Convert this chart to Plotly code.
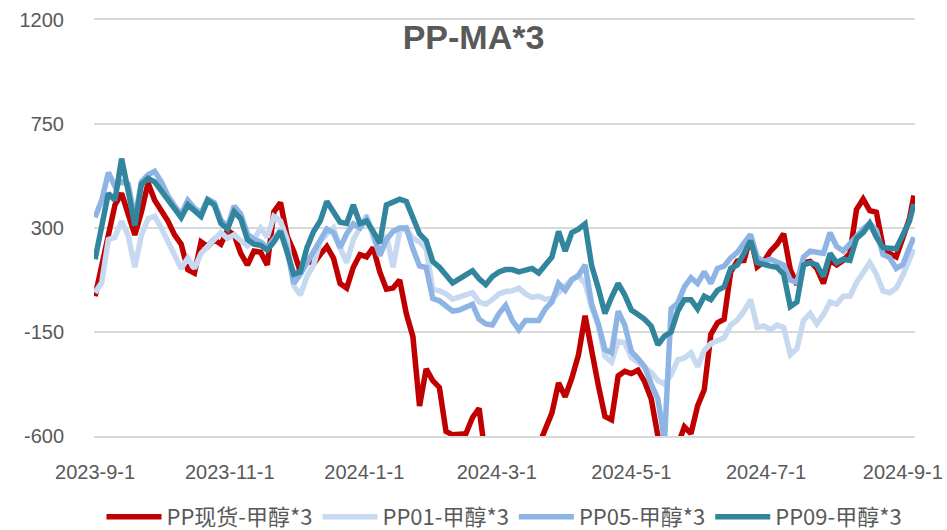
import pandas as pd
import plotly.graph_objects as go

# sample dates: every 3 days from 2023-09-01, plus the last observation
dates = list(pd.date_range("2023-09-01", periods=124, freq="3D").strftime("%Y-%m-%d")) + ["2024-09-06"]

spot = [5, 130, 270, 400, 450, 350, 270, 370, 495, 420,
        380, 330, 270, 230, 120, 105, 240, 220, 250, 230,
        290, 270, 190, 140, 200, 195, 140, 370, 410, 265,
        200, 110, 160, 145, 185, 220, 170, 60, 40, 130,
        185, 175, 215, 110, 35, 40, 75, -70, -170, -470,
        -310, -360, -390, -580, -595, -592, -590, -520, -480, -700,
        -700, -700, -700, -700, -700, -700, -700, -640, -570, -500,
        -370, -430, -350, -250, -80, -240, -380, -515, -530, -340,
        -320, -330, -315, -365, -440, -600, -700, -700, -640, -560,
        -590, -470, -400, -160, -110, -95, 110, 157, 160, 262,
        132, 155, 200, 230, 275, 120, 55, 150, 155, 125,
        60, 160, 140, 160, 190, 380, 425, 375, 368, 220,
        190, 175, 260, 340, 440]

pp01 = [20, 64, 250, 260, 330, 267, 130, 270, 340, 350,
        300, 240, 185, 125, 170, 125, 190, 220, 250, 280,
        255, 270, 245, 223, 250, 300, 260, 350, 330, 250,
        50, 10, 90, 140, 240, 275, 300, 215, 150, 250,
        300, 355, 260, 190, 270, 130, 290, 300, 255, 240,
        210, 35, 28, 15, -8, 0, 10, 20, -20, -30,
        -10, 15, 25, 28, 40, 15, 0, 5, -8, -5,
        20, 50, 78, 93, 60, -45, -120, -255, -280, -190,
        -197, -260, -280, -305, -325, -360, -375, -335, -270, -262,
        -240, -300, -230, -200, -190, -175, -120, -98, -60, -10,
        -130, -124, -140, -120, -130, -248, -222, -100, -70, -115,
        -75, -20, -30, 5, 5, 64, 107, 150, 100, 28,
        20, 40, 95, 165, 209]

pp05 = [346, 420, 540, 480, 500, 490, 340, 500, 530, 545,
        500, 440, 395, 360, 420, 385, 365, 425, 410, 335,
        305, 395, 360, 275, 250, 240, 215, 250, 290, 210,
        60, 100, 150, 205, 250, 296, 280, 215, 275, 318,
        300, 339, 280, 180, 250, 285, 300, 300, 210, 136,
        129, -5, -15, -38, -60, -55, -45, -30, -95, -115,
        -120, -70, -35, -100, -140, -100, -100, -100, -50, -20,
        60, 30, 75, 95, 140, -30, -115, -226, -240, -60,
        -120, -235, -265, -300, -375, -440, -620, -50, -25, 45,
        85, 60, 110, 60, 125, 135, 170, 195, 235, 272,
        175, 155, 165, 150, 140, 75, 65, 175, 200, 195,
        190, 280, 220, 200, 235, 262, 296, 320, 290, 185,
        172, 125, 142, 215, 260]

pp09 = [165, 310, 450, 420, 600, 460, 310, 490, 515, 500,
        460, 420, 375, 345, 400, 372, 350, 420, 400, 320,
        295, 370, 340, 250, 230, 225, 205, 240, 285, 195,
        100, 110, 215, 285, 330, 415, 365, 325, 320, 400,
        320, 330, 285, 235, 400, 410, 425, 415, 350, 275,
        245, 155, 130, 95, 62, 80, 100, 115, 80, 55,
        90, 110, 120, 120, 110, 120, 125, 105, 140, 175,
        285, 200, 280, 295, 318, 136, 40, -70, 0, 60,
        10, -55, -74, -95, -125, -205, -168, -150, -60, -10,
        -10, -50, 5, -10, 30, 45, 125, 140, 190, 245,
        150, 140, 135, 130, 100, -40, -20, 140, 150, 140,
        90, 190, 150, 165, 160, 255, 280, 320, 260, 215,
        210, 210, 270, 330, 404]

names = ["PP现货-甲醇*3", "PP01-甲醇*3", "PP05-甲醇*3", "PP09-甲醇*3"]
colors = ["#C00000", "#C6D9F1", "#8EB4E3", "#31859C"]
series = [spot, pp01, pp05, pp09]

tick_vals = ["2023-09-01", "2023-11-01", "2024-01-01", "2024-03-01",
             "2024-05-01", "2024-07-01", "2024-09-01"]
tick_text = ["2023-9-1", "2023-11-1", "2024-1-1", "2024-3-1",
             "2024-5-1", "2024-7-1", "2024-9-1"]
y_ticks = [-600, -150, 300, 750, 1200]
y_tick_text = ["-600", "-150", "300", "750", "1200"]

fig = go.Figure()
for name, col, vals in zip(names, colors, series):
    fig.add_trace(go.Scatter(x=dates, y=vals, name=name, mode="lines",
                             line=dict(color=col, width=5.5)))

font_family = "Liberation Sans, Noto Sans CJK SC, sans-serif"
fig.update_layout(
    width=947, height=530,
    margin=dict(l=94, r=32, t=20, b=94),
    paper_bgcolor="white", plot_bgcolor="white",
    title=dict(text="<b>PP-MA*3</b>", x=0.5, xanchor="center",
               y=1 - 37 / 530, yanchor="middle",
               font=dict(size=34, color="#595959", family=font_family)),
    font=dict(family=font_family, color="#595959", size=20),
    showlegend=True,
    legend=dict(orientation="h", x=0.5, xanchor="center",
                yref="container", y=1 - 517 / 530, yanchor="middle",
                font=dict(size=22, color="#595959", family="Noto Sans CJK SC, sans-serif"),
                traceorder="normal", itemwidth=55),
    xaxis=dict(type="date", range=["2023-08-31 12:00", "2024-09-06 12:00"],
               tickvals=tick_vals, ticktext=tick_text, showgrid=False,
               showline=True, mirror=True, linecolor="#D9D9D9", linewidth=1.5,
               zeroline=False, ticks="", automargin=False,
               ticklabelstandoff=17,
               tickfont=dict(size=20, color="#595959")),
    yaxis=dict(range=[-600, 1200], tickvals=y_ticks, ticktext=y_tick_text,
               showgrid=True, gridcolor="#D9D9D9", gridwidth=1.5, zeroline=False,
               showline=False, ticks="", ticklabelstandoff=29, automargin=False,
               tickfont=dict(size=20, color="#595959")),
)

fig.write_html("out.html", config={"displayModeBar": False},
               post_script="document.body.style.margin='0';")
